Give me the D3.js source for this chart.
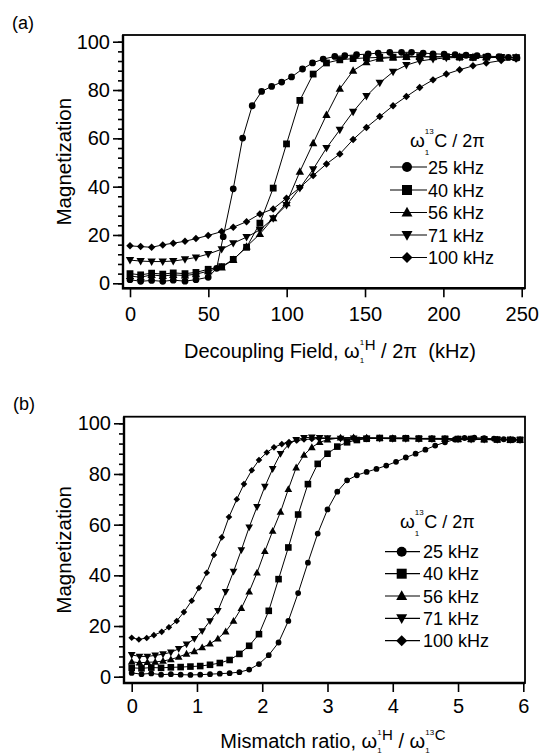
<!DOCTYPE html>
<html>
<head>
<meta charset="utf-8">
<script src="https://cdn.jsdelivr.net/npm/d3@7"></script>
<style>
  body { margin: 0; background: #fff; }
  svg { display: block; }
  text { font-family: "Liberation Sans", Arial, Helvetica, sans-serif; fill: #000; white-space: pre; }
</style>
</head>
<body>
<svg id="chart" width="539" height="755"></svg>
<script>
// legend entries and marker shapes, same order in both panels
const seriesNames = ["25 kHz", "40 kHz", "56 kHz", "71 kHz", "100 kHz"]
const seriesShapes = ["circle", "square", "triangle", "triangleDown", "diamond"]
const yTicks = [0, 20, 40, 60, 80, 100]
const xTicksA = [0, 50, 100, 150, 200, 250]
const xTicksB = [0, 1, 2, 3, 4, 5, 6]

// panel (a): decoupling field (kHz) vs magnetization
const fieldA25 = [0, 6.8, 13.8, 20.9, 27.6, 35.1, 42.1, 49.9, 55.3, 59.5, 65.9, 71.9, 78.0, 84.0, 90.4, 96.8, 103.1, 110.1, 116.5, 123.3, 130.7, 137.1, 144.6, 152.0, 158.4, 165.8, 173.3, 179.7, 187.1, 193.4, 200.5, 207.5, 214.5, 221.5, 228.5, 235.5, 241.5, 247.0]
const magA25 = [1.5, 0.8, 1.2, 0.8, 1.3, 0.9, 1.5, 2.5, 6.2, 19.3, 39.1, 60.1, 73.5, 79.4, 81.5, 83.3, 85.4, 88.7, 91.2, 92.8, 93.9, 94.2, 94.6, 94.9, 95.3, 95.6, 95.6, 95.6, 95.3, 95.0, 94.8, 94.6, 94.4, 94.2, 94.0, 93.8, 93.5, 93.3]
const fieldA = [0, 6.8, 13.8, 20.9, 27.6, 35.1, 42.1, 49.9, 58.5, 65.9, 74.4, 82.9, 91.4, 99.9, 108.4, 116.9, 125.4, 133.9, 142.4, 150.9, 159.4, 167.9, 176.4, 184.9, 193.4, 201.9, 210.4, 218.9, 227.4, 236.9, 246.4]
const magA40 = [4.0, 3.5, 4.2, 3.8, 4.3, 4.0, 4.5, 5.8, 6.9, 9.9, 14.9, 24.9, 39.4, 57.7, 75.7, 86.6, 91.2, 92.5, 93.0, 93.3, 93.5, 93.6, 93.8, 93.8, 93.7, 93.8, 93.6, 93.5, 93.6, 93.5, 93.4]
const magA56 = [3.0, 2.5, 3.5, 3.0, 3.5, 3.2, 3.8, 5.0, 6.6, 9.7, 15.2, 20.4, 26.9, 33.2, 46.2, 58.0, 69.7, 80.5, 88.0, 91.5, 93.0, 93.5, 93.7, 93.8, 93.7, 93.8, 93.7, 93.6, 93.6, 93.5, 93.5]
const magA71 = [9.6, 9.2, 9.0, 9.0, 9.2, 9.9, 10.7, 12.1, 14.1, 16.6, 19.1, 22.1, 26.9, 32.4, 39.4, 47.2, 56.0, 63.5, 71.0, 77.5, 83.0, 87.5, 90.3, 92.0, 92.8, 93.3, 93.5, 93.5, 93.4, 93.5, 93.4]
const magA100 = [15.5, 15.2, 14.9, 15.9, 16.6, 17.4, 18.5, 19.8, 21.4, 23.2, 25.5, 28.7, 30.8, 35.2, 39.6, 44.6, 49.4, 53.5, 59.5, 64.5, 69.0, 73.5, 77.3, 81.0, 84.2, 86.6, 88.4, 90.0, 91.2, 92.2, 92.8]

// panel (b): mismatch ratio vs magnetization
const ratioB25 = [0, 0.15, 0.30, 0.45, 0.60, 0.75, 0.90, 1.05, 1.20, 1.35, 1.50, 1.65, 1.80, 1.95, 2.10, 2.25, 2.40, 2.55, 2.70, 2.85, 3.00, 3.15, 3.30, 3.45, 3.60, 3.75, 3.90, 4.05, 4.20, 4.35, 4.50, 4.65, 4.80, 4.95, 5.10, 5.25, 5.40, 5.55, 5.70, 5.85]
const magB25 = [1.5, 1.0, 1.3, 0.8, 1.0, 0.8, 0.7, 0.8, 1.0, 1.2, 1.4, 1.8, 2.8, 5.0, 8.5, 13.5, 22.0, 33.0, 45.0, 56.5, 66.0, 73.0, 77.5, 79.5, 80.8, 82.0, 83.3, 84.8, 86.5, 88.0, 89.6, 91.2, 92.5, 93.6, 94.2, 94.3, 94.1, 93.9, 93.7, 93.5]
const ratioB40 = [0, 0.15, 0.30, 0.45, 0.60, 0.75, 0.90, 1.05, 1.20, 1.35, 1.50, 1.65, 1.80, 1.95, 2.10, 2.25, 2.40, 2.55, 2.70, 2.85, 3.00, 3.15, 3.30, 3.45, 3.60, 3.80, 4.00, 4.20, 4.40, 4.60, 4.80, 5.00, 5.20, 5.40, 5.60, 5.80, 5.95]
const magB40 = [3.5, 3.3, 3.6, 3.5, 3.7, 3.8, 4.0, 4.2, 4.7, 5.4, 6.6, 9.0, 12.2, 16.8, 26.0, 38.5, 51.0, 64.0, 76.0, 84.0, 88.0, 90.8, 92.5, 93.4, 93.9, 94.2, 94.0, 94.1, 94.0, 93.9, 93.9, 93.8, 93.8, 93.7, 93.6, 93.5, 93.5]
const ratioB = [0, 0.12, 0.24, 0.36, 0.48, 0.60, 0.72, 0.84, 0.96, 1.08, 1.20, 1.32, 1.44, 1.56, 1.68, 1.80, 1.92, 2.04, 2.16, 2.28, 2.40, 2.52, 2.64, 2.76, 2.88, 3.0, 3.2, 3.4, 3.6, 3.8, 4.0, 4.2, 4.4, 4.6, 4.8, 5.0, 5.2, 5.4, 5.6, 5.8, 5.95]
const magB56 = [5.9, 5.5, 5.7, 5.8, 6.2, 6.8, 7.8, 9.0, 10.0, 11.5, 13.0, 15.0, 17.8, 22.0, 27.0, 33.5, 41.0, 49.5, 57.5, 65.0, 74.0, 82.5, 87.5, 90.5, 92.5, 93.5, 94.3, 94.4, 94.3, 94.1, 94.0, 94.0, 93.9, 93.8, 93.8, 93.7, 93.7, 93.6, 93.5, 93.5, 93.4]
const magB71 = [8.6, 8.0, 8.0, 8.4, 8.9, 9.6, 11.0, 12.8, 15.0, 18.0, 22.0, 26.0, 33.5, 41.5, 50.0, 59.0, 67.0, 75.0, 82.0, 88.0, 91.5, 93.5, 94.3, 94.5, 94.3, 94.2, 94.0, 94.1, 94.0, 94.0, 93.9, 93.9, 93.8, 93.8, 93.7, 93.7, 93.6, 93.6, 93.5, 93.5, 93.4]
const ratioB100 = [0, 0.11, 0.23, 0.34, 0.46, 0.57, 0.69, 0.80, 0.92, 1.03, 1.15, 1.26, 1.38, 1.49, 1.61, 1.72, 1.84, 1.95, 2.07, 2.18, 2.30, 2.41, 2.53, 2.64, 2.76, 2.87, 3.0, 3.2, 3.4, 3.6, 3.8, 4.0, 4.2, 4.4, 4.6, 4.8, 5.0, 5.2, 5.4, 5.6, 5.8, 5.95]
const magB100 = [15.4, 14.7, 15.3, 16.4, 17.7, 19.5, 22.0, 25.5, 30.0, 35.0, 41.0, 48.0, 55.0, 63.0, 70.0, 76.0, 81.5, 85.5, 88.5, 90.5, 91.8, 92.6, 93.2, 93.6, 93.8, 94.0, 94.0, 94.2, 94.3, 94.3, 94.2, 94.3, 94.2, 94.0, 94.1, 94.0, 93.9, 93.9, 93.8, 93.7, 93.6, 93.5]

const zip = (xs, ys) => xs.map((v, i) => [v, ys[i]])

const svg = d3.select("#chart")
const fontFamily = '"Liberation Sans", Arial, Helvetica, sans-serif'

// marker outline around (0,0), s = half size
function markerPath(type, s) {
  if (type === "circle") return d3.symbol(d3.symbolCircle, Math.PI * s * s)()
  if (type === "square") return `M${-s},${-s}h${2 * s}v${2 * s}h${-2 * s}Z`
  if (type === "triangle") return `M0,${-s * 1.15}L${s * 1.1},${s * 0.8}L${-s * 1.1},${s * 0.8}Z`
  if (type === "triangleDown") return `M0,${s * 1.15}L${s * 1.1},${-s * 0.8}L${-s * 1.1},${-s * 0.8}Z`
  return `M0,${-s * 1.1}L${s * 1.1},0L0,${s * 1.1}L${-s * 1.1},0Z`
}

// text made of pieces: plain runs and stacked sub/superscripts
function richText(parent, x, y, parts) {
  const g = parent.append("g")
  let cx = x
  parts.forEach(p => {
    if (p.sub) {
      const a = g.append("text").attr("x", cx).attr("y", y + p.sub.dy).attr("font-size", p.sub.fs).text(p.sub.t)
      const b = g.append("text").attr("x", cx).attr("y", y + p.sup.dy).attr("font-size", p.sup.fs).text(p.sup.t)
      cx += Math.max(a.node().getComputedTextLength(), b.node().getComputedTextLength()) + 0.5
    } else {
      const t = g.append("text").attr("x", cx).attr("y", y + (p.dy || 0)).attr("font-size", p.fs).text(p.t)
      cx += t.node().getComputedTextLength()
    }
  })
  return g
}

function centerGroup(g, cx) {
  const bb = g.node().getBBox()
  g.attr("transform", `translate(${cx - (bb.x + bb.width / 2)},0)`)
}

function styleAxis(a, fs) {
  a.attr("font-family", fontFamily).attr("font-size", fs)
  a.select(".domain").remove()
  a.selectAll("line").attr("stroke-width", 1.6)
}

function drawPanel(cfg) {
  const g = svg.append("g")
  const f = cfg.frame
  const x = d3.scaleLinear().domain(cfg.xDomain).range(cfg.xRange)
  const y = d3.scaleLinear().domain([0, 100]).range(cfg.yRange)

  // frame
  g.append("rect")
    .attr("x", f.l).attr("y", f.t)
    .attr("width", f.r - f.l).attr("height", f.b - f.t)
    .attr("fill", "none").attr("stroke", "#000").attr("stroke-width", 1.8)
  g.append("path")
    .attr("d", `M${f.l},${f.t}V${f.b}H${f.r}`)
    .attr("fill", "none").attr("stroke", "#000").attr("stroke-width", 2.4)

  // y axis: minor then major ticks
  g.append("g")
    .attr("transform", `translate(${f.l},0)`)
    .style("color", "#000")
    .call(d3.axisLeft(y).tickValues(d3.range(0, 101, 4)).tickSize(5).tickFormat(""))
    .call(a => styleAxis(a, 20))
  g.append("g")
    .attr("transform", `translate(${f.l},0)`)
    .style("color", "#000")
    .call(d3.axisLeft(y).tickValues(yTicks).tickSize(10).tickPadding(3))
    .call(a => styleAxis(a, 20))

  // x axis
  g.append("g")
    .attr("transform", `translate(0,${f.b})`)
    .style("color", "#000")
    .call(d3.axisBottom(x).tickValues(cfg.xTicks).tickSize(9).tickPadding(cfg.xPad).tickFormat(d3.format("d")))
    .call(a => styleAxis(a, 20))

  // series
  cfg.series.forEach((pts, i) => {
    g.append("path")
      .datum(pts)
      .attr("fill", "none").attr("stroke", "#000").attr("stroke-width", 1)
      .attr("d", d3.line().x(d => x(d[0])).y(d => y(d[1])))
    g.append("g")
      .selectAll("path")
      .data(pts)
      .join("path")
      .attr("transform", d => `translate(${x(d[0])},${y(d[1])})`)
      .attr("d", markerPath(seriesShapes[i], cfg.markerSize[i]))
      .attr("fill", "#000")
  })

  // legend
  const L = cfg.legend
  richText(g, L.titleX, L.titleY, [
    { t: "ω", fs: 19 },
    { sub: { t: "1", fs: 8, dy: 8 }, sup: { t: "13", fs: 8, dy: -13 } },
    { t: "C / 2π", fs: 18 }
  ])
  seriesNames.forEach((name, i) => {
    const ry = L.rows[i]
    g.append("line")
      .attr("x1", L.x1).attr("x2", L.x2).attr("y1", ry).attr("y2", ry)
      .attr("stroke", "#000").attr("stroke-width", 1.2)
    g.append("path")
      .attr("transform", `translate(${L.mx},${ry})`)
      .attr("d", markerPath(seriesShapes[i], 5))
      .attr("fill", "#000")
    g.append("text")
      .attr("x", L.tx).attr("y", ry + 6.5)
      .attr("font-size", 18)
      .text(name)
  })

  // panel letter
  g.append("text").attr("x", cfg.letterX).attr("y", cfg.letterY).attr("font-size", 18).text(cfg.letter)

  // y label
  g.append("text")
    .attr("transform", `translate(${cfg.yLabelX},${(f.t + f.b) / 2}) rotate(-90)`)
    .attr("text-anchor", "middle")
    .attr("font-size", 20.5)
    .text("Magnetization")

  // x label
  const xl = richText(g, 0, cfg.xLabelY, cfg.xLabel)
  centerGroup(xl, cfg.xLabelCX)
}

drawPanel({
  letter: "(a)", letterX: 12, letterY: 28.5,
  frame: { l: 123, r: 525, t: 35, b: 288.3 },
  xDomain: [0, 250], xRange: [130, 521.7], yRange: [283.3, 41.7],
  xTicks: xTicksA, xPad: 9.7,
  markerSize: [3.4, 3.4, 3.8, 3.8, 3.4],
  series: [zip(fieldA25, magA25), zip(fieldA, magA40), zip(fieldA, magA56), zip(fieldA, magA71), zip(fieldA, magA100)],
  legend: { titleX: 410, titleY: 146.7, rows: [167, 190, 212.5, 235, 257.5], x1: 390, x2: 427, mx: 407, tx: 428 },
  yLabelX: 70.5,
  xLabelY: 358, xLabelCX: 330,
  xLabel: [
    { t: "Decoupling Field, ω", fs: 20 },
    { sub: { t: "1", fs: 8, dy: 5 }, sup: { t: "1", fs: 8, dy: -13.5 } },
    { t: "H", fs: 15, dy: -8 },
    { t: " / 2π  (kHz)", fs: 20 }
  ]
})

drawPanel({
  letter: "(b)", letterX: 13, letterY: 410,
  frame: { l: 124, r: 525, t: 416.7, b: 683 },
  xDomain: [0, 6], xRange: [131.7, 523.3], yRange: [676.7, 423.3],
  xTicks: xTicksB, xPad: 7,
  markerSize: [2.9, 3.3, 3.5, 3.5, 3.0],
  series: [zip(ratioB25, magB25), zip(ratioB40, magB40), zip(ratioB, magB56), zip(ratioB, magB71), zip(ratioB100, magB100)],
  legend: { titleX: 400, titleY: 528.3, rows: [551.7, 573.7, 596, 618.3, 640.7], x1: 385, x2: 420, mx: 401.7, tx: 423 },
  yLabelX: 70.5,
  xLabelY: 748, xLabelCX: 333,
  xLabel: [
    { t: "Mismatch ratio, ω", fs: 20 },
    { sub: { t: "1", fs: 8, dy: 5 }, sup: { t: "1", fs: 8, dy: -13.5 } },
    { t: "H", fs: 15, dy: -8 },
    { t: " / ω", fs: 20 },
    { sub: { t: "1", fs: 8, dy: 5 }, sup: { t: "13", fs: 8, dy: -13.5 } },
    { t: "C", fs: 15, dy: -8 }
  ]
})
</script>
</body>
</html>
